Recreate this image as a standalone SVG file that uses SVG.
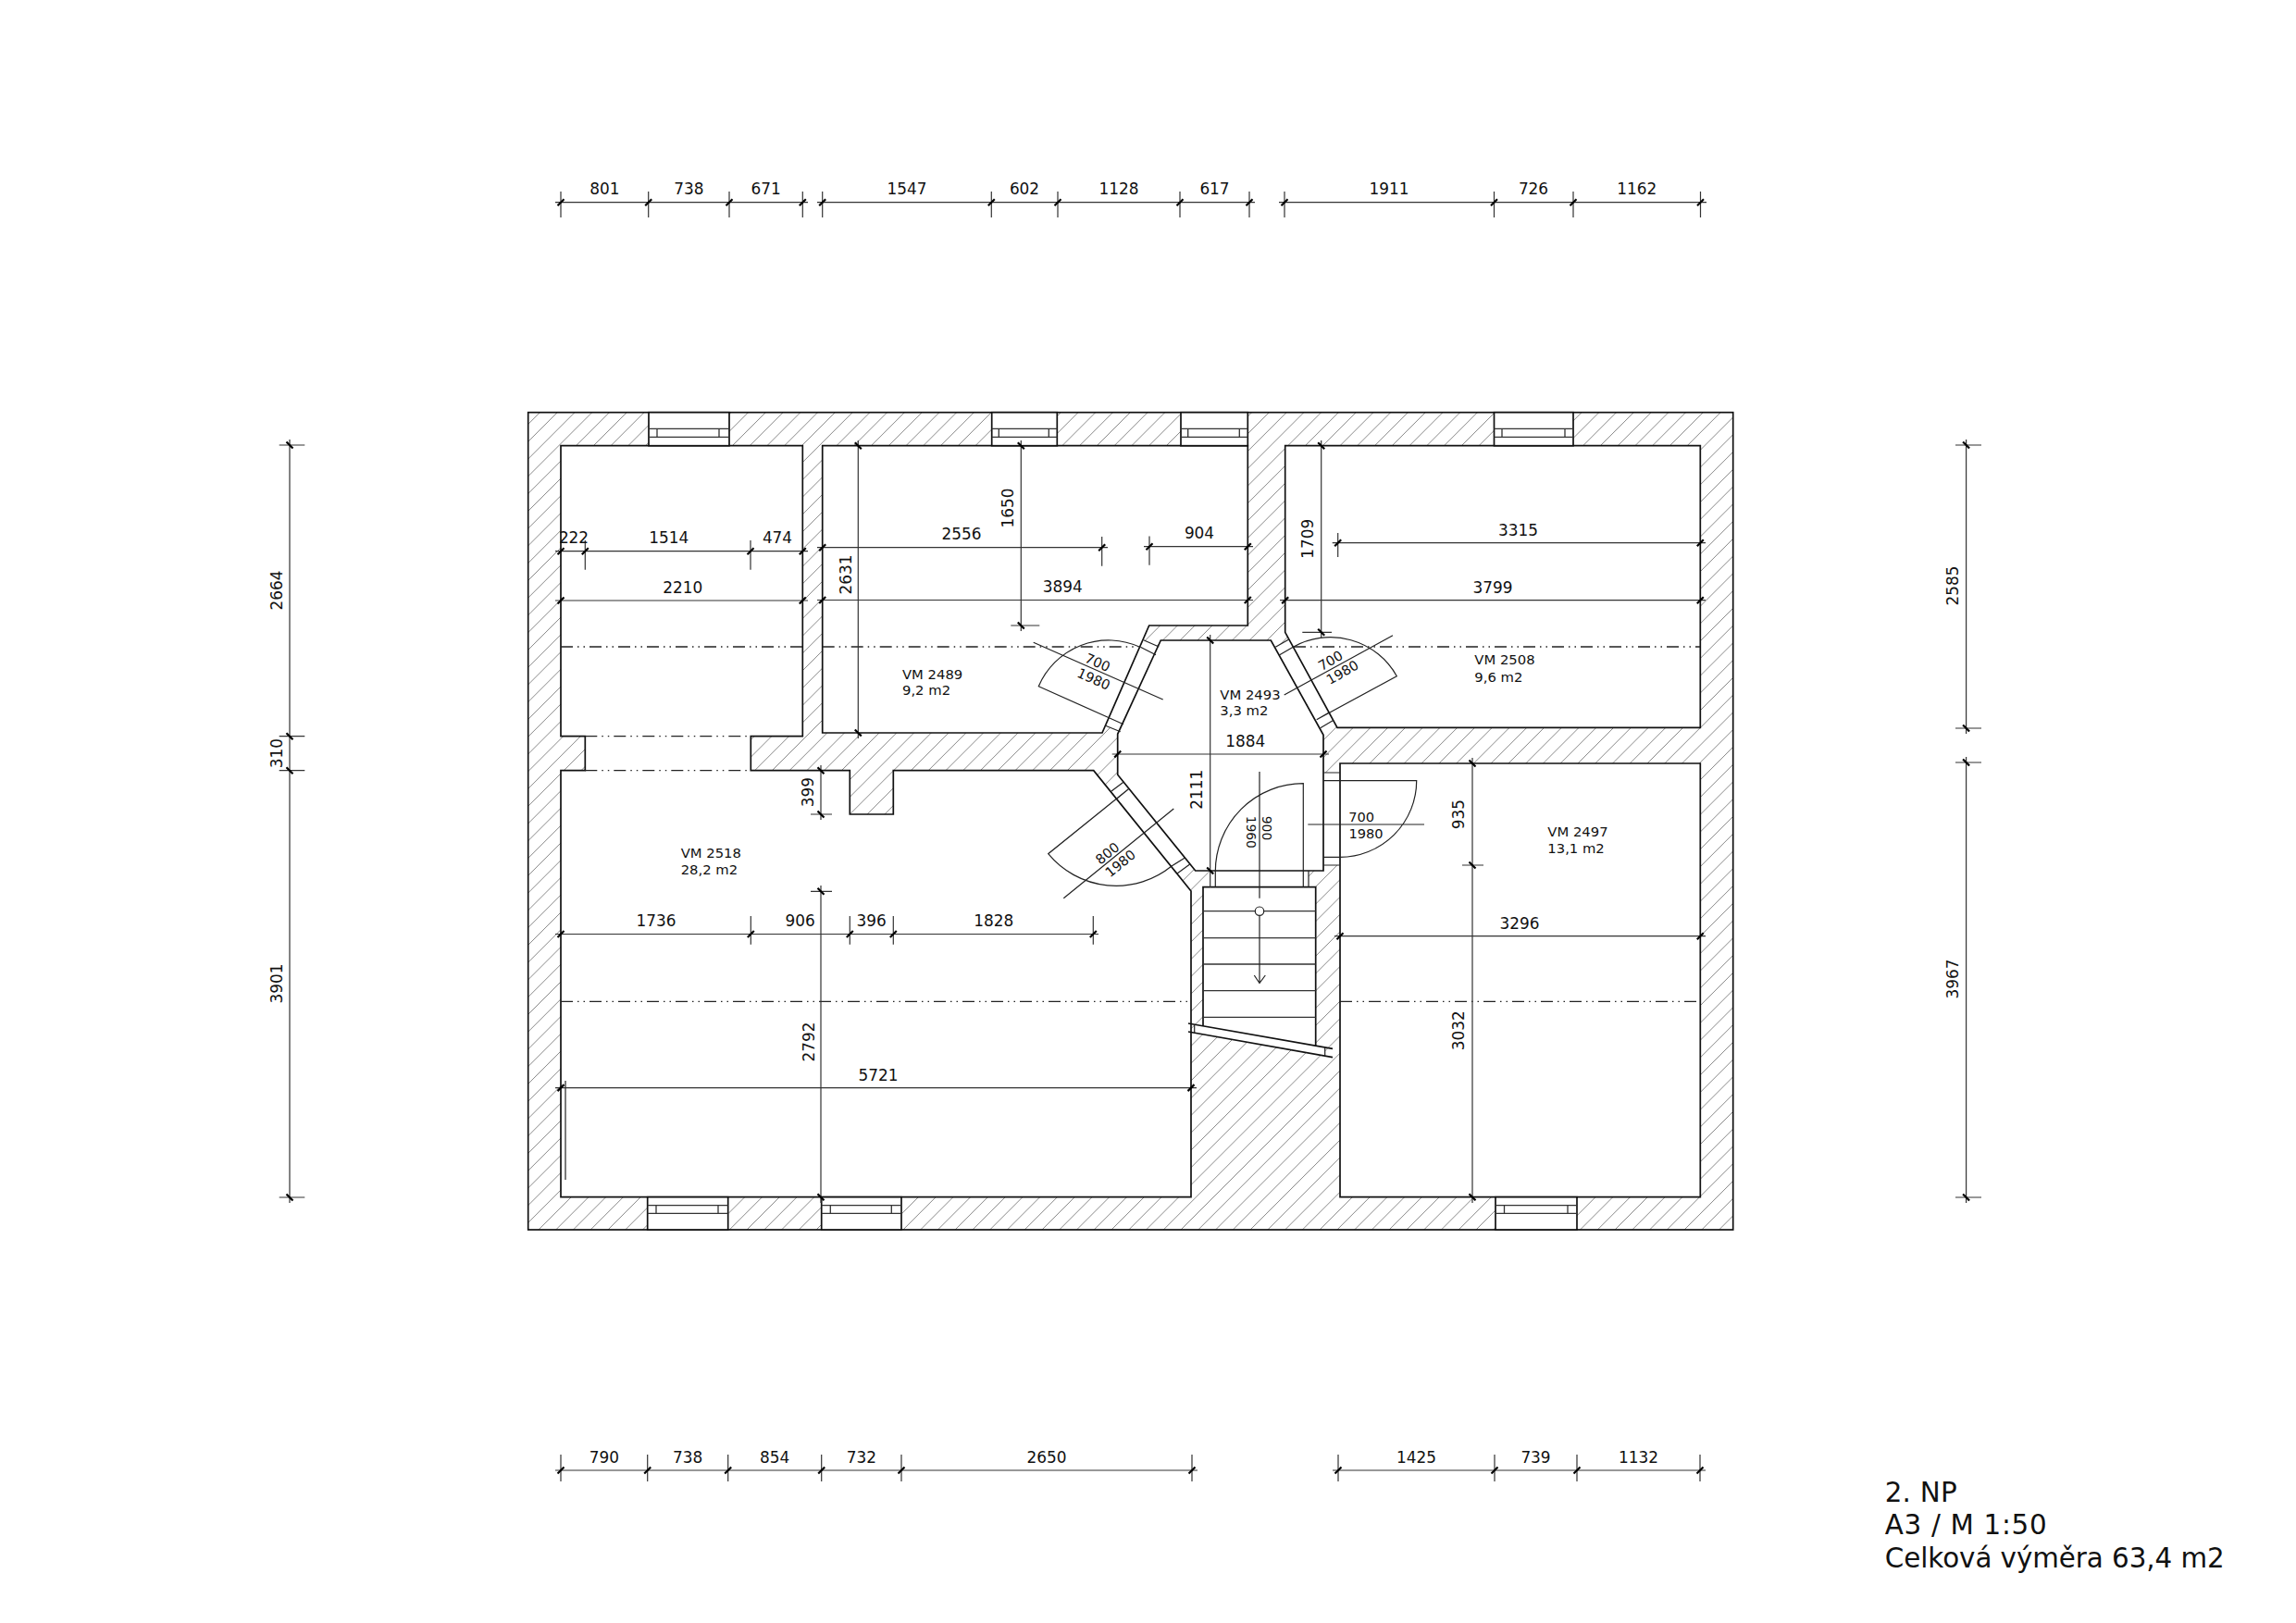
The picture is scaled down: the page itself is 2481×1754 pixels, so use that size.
<svg xmlns="http://www.w3.org/2000/svg" width="2481" height="1754" viewBox="0 0 2481 1754">
<style>
text{font-family:"DejaVu Sans",Verdana,sans-serif;fill:#111}
.d{font-size:16.9px;text-anchor:middle}
.r{font-size:14.8px}
.o{font-size:14.6px;text-anchor:middle}
.t{font-size:29.4px}
.wall{fill:#fff;stroke:#111;stroke-width:1.7;stroke-linejoin:miter}
.open{fill:#fff;stroke:none}
.thin{fill:none;stroke:#222;stroke-width:1.2}
.frame{fill:none;stroke:#333;stroke-width:1.3}
.dim{fill:none;stroke:#333;stroke-width:1.2}
.axis{fill:none;stroke:#222;stroke-width:1.3;stroke-dasharray:13 5 1.5 5 1.5 5}
.tick{fill:none;stroke:#000;stroke-width:2.2}
.hl{fill:none;stroke:#888;stroke-width:1}
</style>
<defs>
<clipPath id="wallclip"><rect x="570.7" y="445.7" width="1302" height="883.3"/></clipPath>
<path id="h1" class="hl" d="M564.72 445.7L-335.28 1345.7"/>
<g id="h2"><use href="#h1"/><use href="#h1" x="18.76"/></g>
<g id="h4"><use href="#h2"/><use href="#h2" x="37.52"/></g>
<g id="h8"><use href="#h4"/><use href="#h4" x="75.04"/></g>
<g id="h16"><use href="#h8"/><use href="#h8" x="150.08"/></g>
<g id="h32"><use href="#h16"/><use href="#h16" x="300.16"/></g>
<g id="h64"><use href="#h32"/><use href="#h32" x="600.32"/></g>
<g id="h128"><use href="#h64"/><use href="#h64" x="1200.64"/></g>
<path id="s" class="tick" d="M-3.5 3.5L3.5-3.5"/>
<path id="b" class="tick" d="M-3.5-3.5L3.5 3.5"/>
</defs>
<rect width="2481" height="1754" fill="#fff"/>

<g id="walls">
<g clip-path="url(#wallclip)"><use href="#h128"/></g>
<rect x="570.7" y="445.7" width="1302" height="883.3" fill="none" stroke="#111" stroke-width="1.7"/>
<path class="open" d="M1235.7 691.7L1252.3 699L1210.7 790.7L1194 784zM1392.7 691L1378.3 699.3L1426.7 786.7L1441 778.3zM1214.3 845L1201 855L1271.7 944.3L1285.7 934zM1307.7 941H1414V958.7H1307.7zM1430 835H1448V935H1430z"/>
</g>

<g id="room-2518">
<path class="wall" d="M606 481.7H867.3V795.7H811.3V832.7H918.3V880H965.3V832.7H1181.7L1287 963V1293.7H606V832.7H632.3V795.7H606z"/>
<path class="thin" d="M611 1168V1275"/>
<path class="axis" d="M606 699H867M632.3 795.7H811M632.3 832.7H811M606 1082.3H1287"/>
<text class="r" x="735.7" y="927">VM 2518</text><text class="r" x="735.7" y="944.5">28,2 m2</text>
</g>
<g id="room-2489">
<path class="wall" d="M888.7 481.7H1348.3V676H1241.7L1191 792H888.7z"/>
<path class="axis" d="M888.7 699H1230"/>
<text class="r" x="975" y="734">VM 2489</text><text class="r" x="975" y="751">9,2 m2</text>
</g>
<g id="room-2508">
<path class="wall" d="M1388.7 481.7H1837.3V786.3H1445L1388.7 683.3z"/>
<path class="axis" d="M1398 699H1837"/>
<text class="r" x="1593.3" y="718.3">VM 2508</text><text class="r" x="1593.3" y="736.5">9,6 m2</text>
</g>
<g id="room-2497">
<path class="wall" d="M1448 825H1837.3V1293.7H1448z"/>
<path class="axis" d="M1448 1082.3H1837"/>
<text class="r" x="1672.3" y="904">VM 2497</text><text class="r" x="1672.3" y="922">13,1 m2</text>
</g>
<g id="room-2493">
<path class="wall" d="M1254.3 692H1373.3L1430 794.3V941H1291.7L1207.7 837.3V793.3z"/>
<text class="r" x="1318.3" y="756">VM 2493</text><text class="r" x="1318.3" y="773.3">3,3 m2</text>
</g>

<g id="windows">
<g id="win-t1"><rect class="wall" x="701" y="445.7" width="87" height="36"/><path class="frame" d="M701 463.3H788M701 472.3H788M710 463.3V472.3M777 463.3V472.3"/></g>
<g id="win-t2"><rect class="wall" x="1071.7" y="445.7" width="70.6" height="36"/><path class="frame" d="M1071.7 463.3H1142.3M1071.7 472.3H1142.3M1079.3 463.3V472.3M1133.3 463.3V472.3"/></g>
<g id="win-t3"><rect class="wall" x="1276" y="445.7" width="72.3" height="36"/><path class="frame" d="M1276 463.3H1348.3M1276 472.3H1348.3M1283.7 463.3V472.3M1339.3 463.3V472.3"/></g>
<g id="win-t4"><rect class="wall" x="1614.5" y="445.7" width="85.5" height="36"/><path class="frame" d="M1614.5 463.3H1700M1614.5 472.3H1700M1623 463.3V472.3M1691 463.3V472.3"/></g>
<g id="win-b1"><rect class="wall" x="699.7" y="1293.7" width="87" height="35.3"/><path class="frame" d="M699.7 1302.7H786.7M699.7 1311.3H786.7M709 1302.7V1311.3M776 1302.7V1311.3"/></g>
<g id="win-b2"><rect class="wall" x="887.7" y="1293.7" width="86.3" height="35.3"/><path class="frame" d="M887.7 1302.7H974M887.7 1311.3H974M897.3 1302.7V1311.3M963.3 1302.7V1311.3"/></g>
<g id="win-b3"><rect class="wall" x="1616" y="1293.7" width="88" height="35.3"/><path class="frame" d="M1616 1302.7H1704M1616 1311.3H1704M1625.5 1302.7V1311.3M1694 1302.7V1311.3"/></g>
</g>

<g id="stair">
<path class="wall" d="M1300 1108.8V958.7H1421.7V1130.1"/>
<path class="frame" d="M1300 984.7H1421.7M1300 1013.7H1421.7M1300 1042H1421.7M1300 1070.7H1421.7M1300 1099.3H1421.7"/>
<path class="open" d="M1290.7 1107.2L1431.7 1131.9V1141.2L1290.7 1116.2z"/>
<path class="wall" style="fill:none" d="M1284 1106L1440 1133.3M1284 1115L1440 1142.7"/>
<path class="thin" d="M1290.7 1107.2V1116.2M1431.7 1131.9V1141.2M1361 989.4V1062.5M1355.3 1054L1361 1062.5L1367.3 1054"/>
<circle cx="1361" cy="984.7" r="4.7" fill="#fff" stroke="#222" stroke-width="1.2"/>
</g>

<g id="door-2489">
<path class="thin" d="M1235.7 691.7L1252.3 699M1232.3 699.3L1249 707.7M1197.3 775.3L1214 782.7M1194 784L1210.7 790.7M1197.3 775.3L1122.3 741.7A82 82 0 0 1 1231.7 699.3M1116.7 694.3L1256.7 756"/>
<text class="o" transform="translate(1186 716) rotate(24)" y="5">700</text>
<text class="o" transform="translate(1181.7 734) rotate(24)" y="5">1980</text>
</g>
<g id="door-2508">
<path class="thin" d="M1378.3 699.3L1392.7 691M1382.7 707.7L1397.3 699.3M1422.7 777.7L1437 769.5M1426.7 786.7L1441 778.3M1422.7 777.7L1509.3 730.7A82 82 0 0 0 1397.3 699.3M1387.7 751L1505 686.7"/>
<text class="o" transform="translate(1437.7 714) rotate(-30)" y="5">700</text>
<text class="o" transform="translate(1450.7 726.7) rotate(-30)" y="5">1980</text>
</g>
<g id="door-2518">
<path class="thin" d="M1201 855L1214.3 845M1207.3 862.7L1220 852.3M1266 936L1280 927.3M1271.7 944.3L1285.7 934M1220 852.3L1132.7 922.7A95 95 0 0 0 1266 936M1268.3 874L1149.3 970.7"/>
<text class="o" transform="translate(1196.7 922.3) rotate(-39)" y="5">800</text>
<text class="o" transform="translate(1210.7 933.3) rotate(-39)" y="5">1980</text>
</g>
<g id="door-stair">
<path class="thin" d="M1313.3 958.7V942A95 95 0 0 1 1408.3 846.7V958.7M1414 941V958.7M1361 834V970.7"/>
<text class="o" style="font-size:13.8px" transform="translate(1364.3 895) rotate(90)">900</text>
<text class="o" style="font-size:13.8px" transform="translate(1346.7 899.3) rotate(90)">1960</text>
</g>
<g id="door-2497">
<path class="thin" d="M1430 835H1448M1430 843.7H1530.7A82.7 82.7 0 0 1 1448 926.3H1430M1430 935H1448M1413.3 891H1539"/>
<text class="o" style="text-anchor:start" x="1457.2" y="888">700</text>
<text class="o" style="text-anchor:start" x="1457.5" y="906">1980</text>
</g>

<g id="connectors">
<path class="dim" d="M600 218.7H873M606 207V235M700.7 207V235M788 207V235M867.3 207V235M883 218.7H1356M888.7 207V235M1071.3 207V235M1143 207V235M1275 207V235M1350 207V235M1382 218.7H1844M1388 207V235M1614.5 207V235M1700 207V235M1837.5 207V235"/>
<use href="#s" x="606" y="218.7"/><use href="#s" x="700.7" y="218.7"/><use href="#s" x="788" y="218.7"/><use href="#s" x="867.3" y="218.7"/><use href="#s" x="888.7" y="218.7"/><use href="#s" x="1071.3" y="218.7"/><use href="#s" x="1143" y="218.7"/><use href="#s" x="1275" y="218.7"/><use href="#s" x="1350" y="218.7"/><use href="#s" x="1388" y="218.7"/><use href="#s" x="1614.5" y="218.7"/><use href="#s" x="1700" y="218.7"/><use href="#s" x="1837.5" y="218.7"/>
<path class="dim" d="M600 1589H1294M606 1572V1601M699.7 1572V1601M786.7 1572V1601M887.7 1572V1601M974 1572V1601M1288 1572V1601M1440 1589H1843M1446 1572V1601M1615 1572V1601M1704 1572V1601M1837 1572V1601"/>
<use href="#s" x="606" y="1589"/><use href="#s" x="699.7" y="1589"/><use href="#s" x="786.7" y="1589"/><use href="#s" x="887.7" y="1589"/><use href="#s" x="974" y="1589"/><use href="#s" x="1288" y="1589"/><use href="#s" x="1446" y="1589"/><use href="#s" x="1615" y="1589"/><use href="#s" x="1704" y="1589"/><use href="#s" x="1837" y="1589"/>
<path class="dim" d="M313 475V1300M301.7 481H329.3M301.7 795.7H329.3M301.7 832.7H329.3M301.7 1294H329.3M2124.6 475V793M2113 481H2141M2113 787H2141M2124.6 818V1300M2113 824H2141M2113 1294H2141"/>
<use href="#b" x="313" y="481"/><use href="#b" x="313" y="795.7"/><use href="#b" x="313" y="832.7"/><use href="#b" x="313" y="1294"/><use href="#b" x="2124.6" y="481"/><use href="#b" x="2124.6" y="787"/><use href="#b" x="2124.6" y="824"/><use href="#b" x="2124.6" y="1294"/>
<path class="dim" d="M600 595.7H873M632.3 584V615.7M811 584V615.7M600 649H873"/>
<use href="#s" x="606" y="595.7"/><use href="#s" x="632.3" y="595.7"/><use href="#s" x="811" y="595.7"/><use href="#s" x="867.3" y="595.7"/><use href="#s" x="606" y="649"/><use href="#s" x="867.3" y="649"/>
<path class="dim" d="M927.3 476V798M883 591.7H1197M1190.7 580V611.7M1236 590.7H1354M1242 579.5V610.7M883 648.5H1354M1103.3 476V682M1092.3 676H1123.3"/>
<use href="#b" x="927.3" y="481.7"/><use href="#b" x="927.3" y="792"/><use href="#s" x="888.7" y="591.7"/><use href="#s" x="1190.7" y="591.7"/><use href="#s" x="1242" y="590.7"/><use href="#s" x="1348.3" y="590.7"/><use href="#s" x="888.7" y="648.5"/><use href="#s" x="1348.3" y="648.5"/><use href="#b" x="1103.3" y="481.7"/><use href="#b" x="1103.3" y="676"/>
<path class="dim" d="M1427.7 476V689M1407.3 683.3H1439M1439.7 586.7H1843M1445.7 576V602M1383 648.7H1843"/>
<use href="#b" x="1427.7" y="481.7"/><use href="#b" x="1427.7" y="683.3"/><use href="#s" x="1445.7" y="586.7"/><use href="#s" x="1837.3" y="586.7"/><use href="#s" x="1388.7" y="648.7"/><use href="#s" x="1837.3" y="648.7"/>
<path class="dim" d="M1201.7 815H1436M1307.7 686V958.7"/>
<use href="#s" x="1207.7" y="815"/><use href="#s" x="1430" y="815"/><use href="#b" x="1307.7" y="692"/><use href="#b" x="1307.7" y="941"/>
<path class="dim" d="M1591 819V1300M1580 935H1603M1442 1011.7H1843"/>
<use href="#b" x="1591" y="825"/><use href="#b" x="1591" y="935"/><use href="#b" x="1591" y="1293.7"/><use href="#s" x="1448" y="1011.7"/><use href="#s" x="1837.3" y="1011.7"/>
<path class="dim" d="M600 1009.5H1187M811.3 990V1020.7M918.3 990V1020.7M965.3 990V1020.7M1181.3 990V1020.7M887 827V886M876 880H899M887 957V1300M876 963.3H899M600 1175.6H1293"/>
<use href="#s" x="606" y="1009.5"/><use href="#s" x="811.3" y="1009.5"/><use href="#s" x="918.3" y="1009.5"/><use href="#s" x="965.3" y="1009.5"/><use href="#s" x="1181.3" y="1009.5"/><use href="#b" x="887" y="832.7"/><use href="#b" x="887" y="880"/><use href="#b" x="887" y="963.3"/><use href="#b" x="887" y="1293.7"/><use href="#s" x="606" y="1175.6"/><use href="#s" x="1287" y="1175.6"/>
</g>

<g id="dimension-labels">
<text class="d" x="653.3" y="210">801</text><text class="d" x="744.3" y="210">738</text><text class="d" x="827.7" y="210">671</text><text class="d" x="980" y="210">1547</text><text class="d" x="1107" y="210">602</text><text class="d" x="1209" y="210">1128</text><text class="d" x="1312.5" y="210">617</text><text class="d" x="1501" y="210">1911</text><text class="d" x="1657" y="210">726</text><text class="d" x="1768.7" y="210">1162</text>
<text class="d" x="652.8" y="1580.7">790</text><text class="d" x="743.2" y="1580.7">738</text><text class="d" x="837.2" y="1580.7">854</text><text class="d" x="930.8" y="1580.7">732</text><text class="d" x="1131" y="1580.7">2650</text><text class="d" x="1530.5" y="1580.7">1425</text><text class="d" x="1659.5" y="1580.7">739</text><text class="d" x="1770.5" y="1580.7">1132</text>
<text class="d" transform="translate(305 638) rotate(-90)">2664</text><text class="d" transform="translate(305 814) rotate(-90)">310</text><text class="d" transform="translate(305 1063) rotate(-90)">3901</text>
<text class="d" transform="translate(2116 633) rotate(-90)">2585</text><text class="d" transform="translate(2116 1058) rotate(-90)">3967</text>
<text class="d" x="620" y="587.3">222</text><text class="d" x="722.7" y="587.3">1514</text><text class="d" x="840" y="587.3">474</text><text class="d" x="737.7" y="641">2210</text>
<text class="d" x="1039" y="583">2556</text><text class="d" x="1296" y="581.7">904</text><text class="d" x="1148.3" y="640">3894</text>
<text class="d" transform="translate(920 621) rotate(-90)">2631</text><text class="d" transform="translate(1094.7 549) rotate(-90)">1650</text><text class="d" transform="translate(1419 582.3) rotate(-90)">1709</text>
<text class="d" x="1640.5" y="579">3315</text><text class="d" x="1613" y="641">3799</text>
<text class="d" x="1345.7" y="806.7">1884</text><text class="d" transform="translate(1299 853.3) rotate(-90)">2111</text>
<text class="d" transform="translate(1582.3 880) rotate(-90)">935</text><text class="d" transform="translate(1582.3 1113.7) rotate(-90)">3032</text><text class="d" x="1642" y="1003.5">3296</text>
<text class="d" x="709" y="1000.7">1736</text><text class="d" x="864.7" y="1000.7">906</text><text class="d" x="941.7" y="1000.7">396</text><text class="d" x="1073.7" y="1000.7">1828</text>
<text class="d" transform="translate(879 856) rotate(-90)">399</text><text class="d" transform="translate(879.5 1126) rotate(-90)">2792</text><text class="d" x="949" y="1167.5">5721</text>
</g>

<g id="title">
<text class="t" x="2036.7" y="1623.3" textLength="78">2. NP</text>
<text class="t" x="2036.7" y="1658.3" textLength="175">A3 / M 1:50</text>
<text class="t" x="2036.7" y="1694" textLength="367">Celková výměra 63,4 m2</text>
</g>
</svg>
